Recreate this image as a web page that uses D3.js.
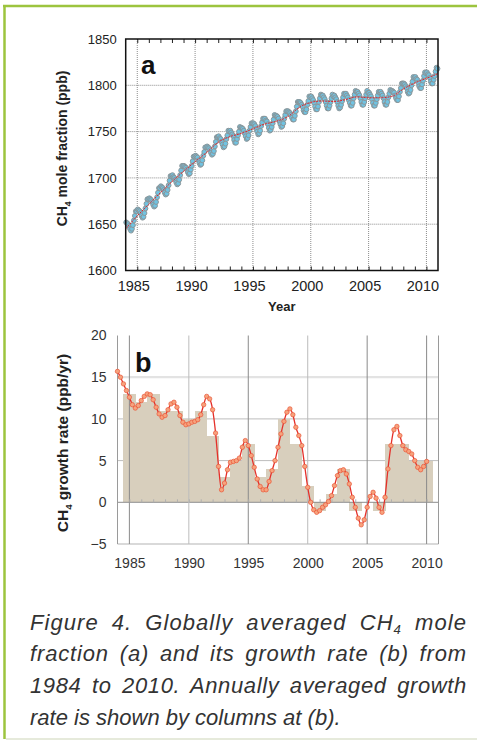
<!DOCTYPE html>
<html><head><meta charset="utf-8">
<script src="https://cdn.jsdelivr.net/npm/d3@7"></script>
<style>html,body{margin:0;padding:0;background:#fff;}svg{display:block;}</style>
</head><body>
<svg id="chart" width="477" height="740"></svg>
<script>
// ---------------- DATA ----------------
const xTicks = [1985, 1990, 1995, 2000, 2005, 2010];
const minorYears = [1985,1986,1987,1988,1989,1990,1991,1992,1993,1994,1995,1996,1997,1998,1999,2000,2001,2002,2003,2004,2005,2006,2007,2008,2009,2010];
const yTicksA = [1600, 1650, 1700, 1750, 1800, 1850];
const yTicksB = [-5, 0, 5, 10, 15, 20];

// Panel a: monthly global CH4 mole fraction (ppb), one row per year (Jan..Dec)
const monthlyYears = [1984,1985,1986,1987,1988,1989,1990,1991,1992,1993,1994,1995,1996,1997,1998,1999,2000,2001,2002,2003,2004,2005,2006,2007,2008,2009,2010];
const ch4Monthly = [
  [1652,1651,1650,1648,1645,1643,1645,1649,1654,1659,1664,1664],
  [1666,1665,1664,1662,1659,1657,1658,1662,1667,1672,1677,1677],
  [1678,1677,1676,1674,1671,1669,1670,1674,1679,1684,1689,1689],
  [1691,1690,1689,1687,1684,1682,1683,1687,1692,1697,1702,1702],
  [1703,1701,1700,1698,1695,1693,1694,1698,1703,1708,1713,1713],
  [1713,1712,1711,1709,1706,1704,1705,1709,1713,1718,1723,1723],
  [1724,1723,1722,1719,1716,1714,1715,1719,1724,1728,1733,1733],
  [1734,1733,1732,1730,1727,1725,1726,1729,1734,1739,1744,1744],
  [1745,1743,1742,1739,1736,1733,1734,1737,1742,1746,1751,1750],
  [1751,1749,1747,1745,1741,1738,1738,1742,1746,1750,1755,1754],
  [1754,1753,1751,1748,1745,1742,1743,1746,1751,1755,1759,1759],
  [1759,1758,1756,1753,1750,1747,1748,1751,1756,1760,1764,1764],
  [1764,1762,1761,1758,1754,1751,1752,1755,1759,1763,1768,1767],
  [1767,1766,1764,1761,1758,1755,1756,1759,1764,1768,1772,1772],
  [1772,1771,1770,1768,1765,1763,1763,1767,1772,1777,1782,1782],
  [1782,1781,1779,1777,1773,1771,1771,1774,1779,1783,1788,1787],
  [1788,1786,1784,1781,1777,1774,1774,1777,1782,1786,1790,1789],
  [1789,1787,1785,1782,1778,1775,1775,1778,1782,1786,1790,1788],
  [1789,1787,1785,1782,1778,1775,1776,1779,1783,1787,1791,1790],
  [1791,1789,1787,1784,1781,1778,1778,1781,1786,1790,1794,1793],
  [1793,1791,1789,1786,1782,1779,1779,1782,1786,1790,1794,1792],
  [1792,1790,1788,1785,1781,1778,1778,1781,1785,1789,1793,1792],
  [1793,1791,1789,1786,1782,1779,1779,1782,1787,1791,1795,1794],
  [1794,1793,1792,1789,1786,1784,1784,1788,1793,1797,1802,1802],
  [1802,1801,1799,1797,1793,1791,1792,1795,1800,1804,1809,1808],
  [1809,1807,1806,1803,1799,1797,1797,1801,1805,1810,1814,1813],
  [1814,1812,1811,1808,1804,1802,1802,1806,1810,1815,1819,1818]
];
// Panel a: deseasonalised trend (ppb) at the start of each year
const trendYears = [1984,1985,1986,1987,1988,1989,1990,1991,1992,1993,1994,1995,1996,1997,1998,1999,2000,2001,2002,2003,2004,2005,2006,2007,2008,2009,2010,2011];
const trendValues = [1645,1659,1671.5,1684,1696,1707,1717.5,1727.5,1738.5,1744.5,1748,1753,1758,1761,1766,1776,1781.5,1783,1782.5,1784.5,1787.5,1786.5,1786.5,1788,1796,1802.5,1807.5,1812.5];

// Panel b: annually averaged growth rate (ppb/yr)
const barYears = [1985,1986,1987,1988,1989,1990,1991,1992,1993,1994,1995,1996,1997,1998,1999,2000,2001,2002,2003,2004,2005,2006,2007,2008,2009,2010];
const barValues = [13,12,13,11,11,10,11,8,3,5,7,3,4,10,7,2,-1,1,4,-1,0,-1,7,7,5,5];

// Panel b: smoothed growth rate (ppb/yr), quarterly from 1984.0
const growthStart = 1984, growthStep = 0.25;
const growthValues = [
  15.7,15.0,14.2,13.4, 12.6,11.7,11.3,11.6, 12.2,12.7,13.0,12.9, 12.3,11.4,10.6,10.2,
  10.4,11.1,11.8,12.0, 11.4,10.4,9.6,9.3, 9.4,9.6,9.7,9.9, 10.5,11.7,12.7,12.4,
  11.1,8.3,4.3,1.5, 2.3,3.9,4.8,4.9, 5.0,5.3,6.6,7.4, 6.8,5.6,4.2,2.8,
  1.9,1.5,1.5,2.5, 3.8,5.0,6.6,8.2, 9.7,10.8,11.2,10.5, 9.0,8.0,6.8,4.3,
  1.8,0.0,-0.9,-1.2, -1.0,-0.6,-0.3,0.1, 0.8,2.0,3.2,3.8, 3.9,3.4,2.2,0.6,
  -0.6,-1.9,-2.7,-2.1, -0.6,0.7,1.2,0.5, -0.6,-1.2,0.6,4.0, 6.8,8.7,9.1,8.0,
  6.8,6.3,6.1,5.8, 5.0,4.2,3.9,4.3, 4.9
];

const captionLines = [
  ["Figure 4. Globally averaged CH", "4", " mole"],
  ["fraction (a) and its growth rate (b) from"],
  ["1984 to 2010. Annually averaged growth"],
  ["rate is shown by columns at (b)."]
];

// ---------------- DRAW ----------------
const FONT = "'Liberation Sans', Arial, Helvetica, sans-serif";
const NARROW = "'Liberation Sans Narrow', 'Arial Narrow', 'Liberation Sans', sans-serif";
const svg = d3.select('#chart');

// frame of the box
svg.append('line').attr('x1', 3).attr('x2', 477).attr('y1', 6).attr('y2', 6)
  .attr('stroke', '#9cc43e').attr('stroke-width', 2.5);
svg.append('line').attr('x1', 4.5).attr('x2', 4.5).attr('y1', 5).attr('y2', 739)
  .attr('stroke', '#9cc43e').attr('stroke-width', 2.5);
svg.append('line').attr('x1', 6).attr('x2', 477).attr('y1', 739).attr('y2', 739)
  .attr('stroke', '#e6eadb').attr('stroke-width', 2);

// ===== Panel a =====
const xa = d3.scaleLinear().domain([1984, 2011]).range([125.7, 438]);
const ya = d3.scaleLinear().domain([1600, 1850]).range([270.5, 39]);
const gA = svg.append('g');

gA.append('g').selectAll('line').data(xTicks).join('line')
  .attr('x1', d => xa(d)).attr('x2', d => xa(d))
  .attr('y1', ya(1850)).attr('y2', ya(1600))
  .attr('stroke', '#808080').attr('stroke-width', 0.9).attr('stroke-dasharray', '1,1');
gA.append('g').selectAll('line').data(yTicksA.filter(d => d > 1600 && d < 1850)).join('line')
  .attr('x1', xa(1984)).attr('x2', xa(2011))
  .attr('y1', d => ya(d)).attr('y2', d => ya(d))
  .attr('stroke', '#808080').attr('stroke-width', 0.9).attr('stroke-dasharray', '1,1');

function styleAxis(g, size, color, weight) {
  g.select('.domain').remove();
  g.selectAll('.tick line').attr('stroke', '#222');
  g.selectAll('text').attr('font-family', FONT).attr('font-size', size)
    .attr('fill', color).attr('font-weight', weight || 'normal');
}
// minor ticks
gA.append('g').attr('transform', `translate(0,${ya(1600)})`)
  .call(d3.axisBottom(xa).tickValues(minorYears).tickSize(-4).tickFormat(''))
  .call(g => styleAxis(g, 10, '#222'));
gA.append('g').attr('transform', `translate(0,${ya(1850)})`)
  .call(d3.axisTop(xa).tickValues(minorYears).tickSize(-4).tickFormat(''))
  .call(g => styleAxis(g, 10, '#222'));
// labels
gA.append('g').attr('transform', `translate(0,${ya(1600)})`)
  .call(d3.axisBottom(xa).tickValues(xTicks).tickSize(0).tickPadding(10).tickFormat(d3.format('d')))
  .call(g => styleAxis(g, 14.5, '#222'))
  .call(g => g.selectAll('text').attr('dx', -4));
gA.append('g').attr('transform', `translate(${xa(1984)},0)`)
  .call(d3.axisLeft(ya).tickValues(yTicksA).tickSize(0).tickPadding(9).tickFormat(d3.format('d')))
  .call(g => styleAxis(g, 13, '#222'));

// data points
const dots = [];
monthlyYears.forEach((yr, i) => ch4Monthly[i].forEach((v, m) => dots.push({ t: yr + (m + 0.5) / 12, v })));
gA.append('g').selectAll('circle').data(dots).join('circle')
  .attr('cx', d => xa(d.t)).attr('cy', d => ya(d.v)).attr('r', 2.4)
  .attr('fill', '#70c3e2').attr('stroke', '#8a969a').attr('stroke-width', 1);

// trend
gA.append('path')
  .datum(trendYears.map((y, i) => [y, trendValues[i]]))
  .attr('d', d3.line().x(d => xa(d[0])).y(d => ya(d[1])).curve(d3.curveMonotoneX))
  .attr('fill', 'none').attr('stroke', '#e2232b').attr('stroke-width', 1)
  .attr('stroke-dasharray', '2,1');

// frame
gA.append('rect').attr('x', xa(1984)).attr('y', ya(1850))
  .attr('width', xa(2011) - xa(1984)).attr('height', ya(1600) - ya(1850))
  .attr('fill', 'none').attr('stroke', '#111').attr('stroke-width', 1.5);

gA.append('text').attr('x', 141).attr('y', 74).text('a')
  .attr('font-family', NARROW).attr('font-weight', 'bold').attr('font-size', 26).attr('fill', '#111');
gA.append('text').attr('x', (xa(1984) + xa(2011)) / 2).attr('y', 311).attr('text-anchor', 'middle')
  .text('Year').attr('font-family', FONT).attr('font-weight', 'bold').attr('font-size', 13).attr('fill', '#222');

function ytitle(g, x, y, main, rest, size) {
  const t = g.append('text').attr('transform', `translate(${x},${y}) rotate(-90)`)
    .attr('text-anchor', 'middle').attr('font-family', FONT).attr('font-weight', 'bold')
    .attr('font-size', size).attr('fill', '#222');
  t.append('tspan').text(main);
  t.append('tspan').text('4').attr('font-size', size * 0.62).attr('dy', size * 0.28);
  t.append('tspan').text(rest).attr('dy', -size * 0.28);
}
ytitle(gA, 67, 148.5, 'CH', ' mole fraction (ppb)', 14);

// ===== Panel b =====
const xb = d3.scaleLinear().domain([1984, 2011]).range([117.5, 438.5]);
const yb = d3.scaleLinear().domain([-5, 20]).range([544, 335.5]);
const gB = svg.append('g');

const hStyle = { 15: ['#e3e3e3', 2.2], 10: ['#bdbdbd', 1], 5: ['#bdbdbd', 1] };
gB.append('g').selectAll('line').data([15, 10, 5]).join('line')
  .attr('x1', xb(1984)).attr('x2', xb(2011))
  .attr('y1', d => yb(d)).attr('y2', d => yb(d))
  .attr('stroke', d => hStyle[d][0]).attr('stroke-width', d => hStyle[d][1]);

// bars
gB.append('g').attr('shape-rendering', 'crispEdges')
  .selectAll('rect').data(barYears.map((y, i) => ({ y, v: barValues[i] }))).join('rect')
  .attr('x', d => xb(d.y - 0.5)).attr('width', d => xb(d.y + 0.5) - xb(d.y - 0.5) + 0.6)
  .attr('y', d => yb(Math.max(0, d.v))).attr('height', d => Math.abs(yb(d.v) - yb(0)))
  .attr('fill', '#d8cfbd');

// zero & bottom lines
gB.append('line').attr('x1', xb(1984)).attr('x2', xb(2011)).attr('y1', yb(0)).attr('y2', yb(0))
  .attr('stroke', '#8d8d8d').attr('stroke-width', 1);
gB.append('line').attr('x1', xb(1984)).attr('x2', xb(2011)).attr('y1', yb(-5)).attr('y2', yb(-5))
  .attr('stroke', '#b3b3b3').attr('stroke-width', 1);
// vertical grid
gB.append('g').selectAll('line').data(xTicks).join('line')
  .attr('x1', d => xb(d)).attr('x2', d => xb(d)).attr('y1', yb(20)).attr('y2', yb(-5))
  .attr('stroke', d => (d === 1990 || d === 2000) ? '#bcbcbc' : '#8a8a8a').attr('stroke-width', 1);
// side lines
gB.append('g').selectAll('line').data([1984, 2011]).join('line')
  .attr('x1', d => xb(d)).attr('x2', d => xb(d)).attr('y1', yb(20)).attr('y2', yb(-5))
  .attr('stroke', '#9a9a9a').attr('stroke-width', 1);
// minor ticks on zero line
gB.append('g').attr('transform', `translate(0,${yb(0)})`)
  .call(d3.axisTop(xb).tickValues(minorYears).tickSize(3).tickFormat(''))
  .call(g => { g.select('.domain').remove(); g.selectAll('.tick line').attr('stroke', '#b0b0b0'); });

// labels
gB.append('g').attr('transform', `translate(0,${yb(-5)})`)
  .call(d3.axisBottom(xb).tickValues(xTicks).tickSize(0).tickPadding(14).tickFormat(d3.format('d')))
  .call(g => styleAxis(g, 14, '#333'));
gB.append('g').attr('transform', `translate(${xb(1984)},0)`)
  .call(d3.axisLeft(yb).tickValues(yTicksB).tickSize(0).tickPadding(11).tickFormat(d3.format('d')))
  .call(g => styleAxis(g, 14, '#333'));

// growth curve
const growth = growthValues.map((v, i) => ({ t: growthStart + i * growthStep, v }));
gB.append('path').datum(growth)
  .attr('d', d3.line().x(d => xb(d.t)).y(d => yb(d.v)).curve(d3.curveMonotoneX))
  .attr('fill', 'none').attr('stroke', '#e5302a').attr('stroke-width', 1.3);
gB.append('g').selectAll('circle').data(growth).join('circle')
  .attr('cx', d => xb(d.t)).attr('cy', d => yb(d.v)).attr('r', 2.2)
  .attr('fill', '#f6a27d').attr('stroke', '#ea5638').attr('stroke-width', 0.7);

gB.append('text').attr('x', 135).attr('y', 371.5).text('b')
  .attr('font-family', NARROW).attr('font-weight', 'bold').attr('font-size', 27).attr('fill', '#111');
ytitle(gB, 67.5, 443, 'CH', ' growth rate (ppb/yr)', 15.5);

// ===== Caption =====
const capX = 30, capRight = 467, capSize = 22;
captionLines.forEach((parts, i) => {
  const t = svg.append('text').attr('x', capX).attr('y', 629.5 + i * 31.9)
    .attr('font-family', FONT).attr('font-style', 'italic').attr('font-size', capSize)
    .attr('fill', '#333');
  if (parts.length === 3) {
    t.append('tspan').text(parts[0]);
    t.append('tspan').text(parts[1]).attr('font-size', capSize * 0.6).attr('dy', capSize * 0.22);
    t.append('tspan').text(parts[2]).attr('dy', -capSize * 0.22);
  } else {
    t.text(parts[0]);
  }
  if (i < captionLines.length - 1) {
    const str = parts.join('');
    const w = t.node().getComputedTextLength();
    const nSpaces = (str.match(/ /g) || []).length;
    const extra = capRight - capX - w;
    // share the justification between letters and word gaps
    const ls = (extra * 0.55) / (str.length - 1);
    t.attr('letter-spacing', ls);
    const w2 = t.node().getComputedTextLength();
    t.attr('word-spacing', (capRight - capX - w2) / nSpaces);
  }
});
</script>
</body></html>
